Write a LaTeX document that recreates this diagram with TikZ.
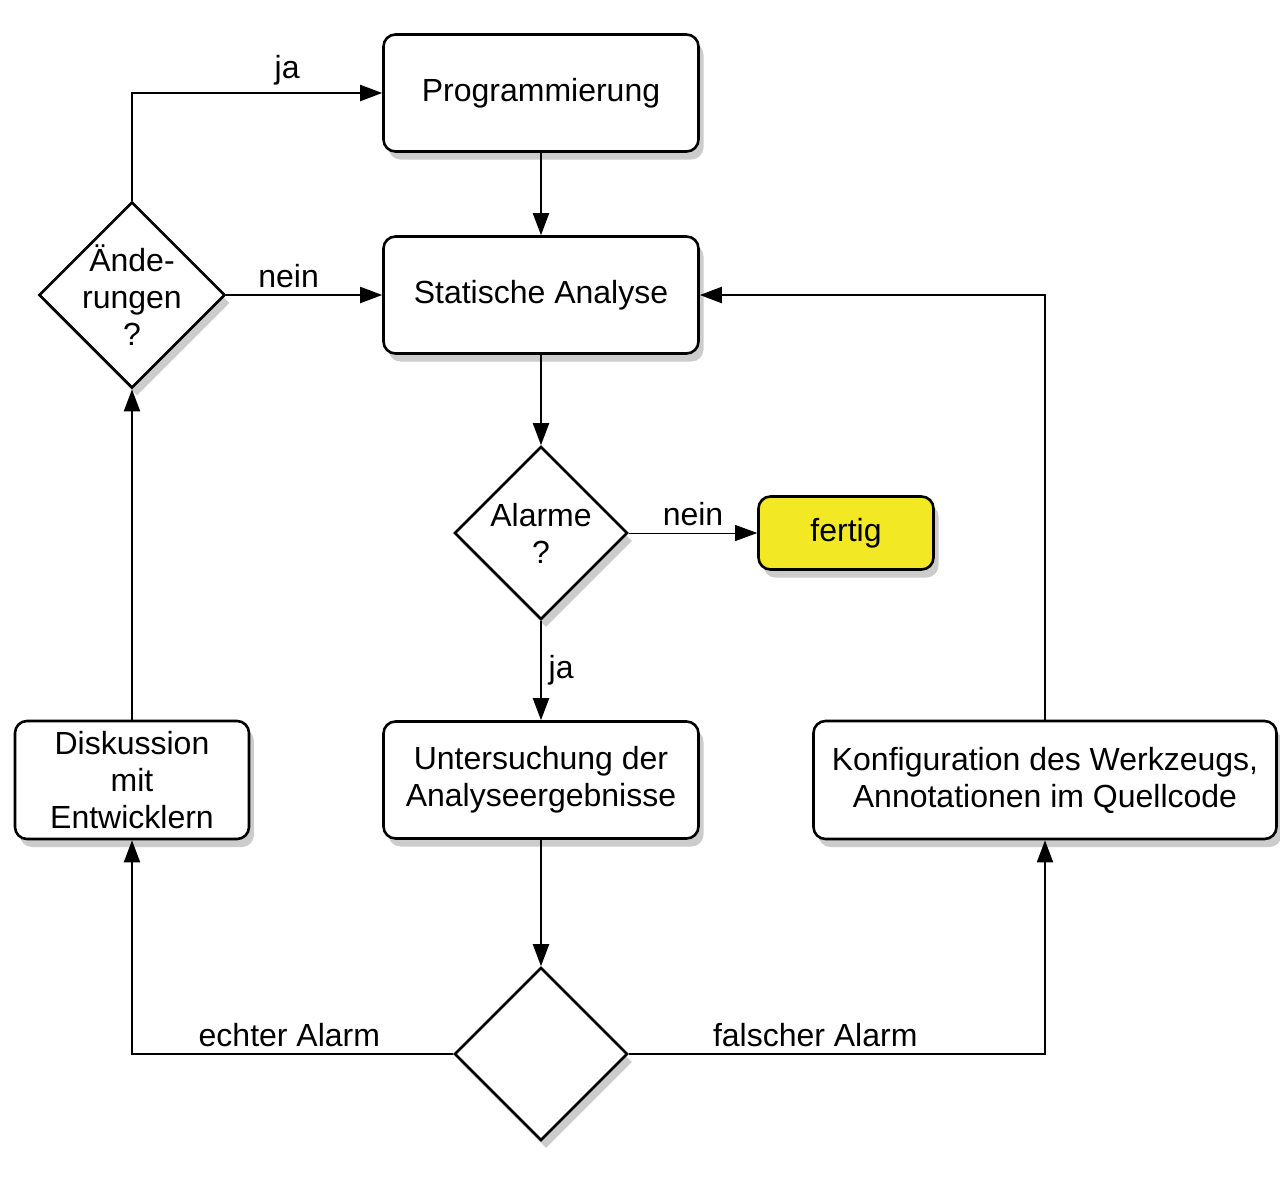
\documentclass[tikz,border=0pt]{standalone}
\usepackage{fontspec}
\setmainfont{Liberation Sans}
\usetikzlibrary{arrows.meta,shapes.geometric,shadows}
\definecolor{fertiggelb}{RGB}{242,232,36}

\begin{document}
\begin{tikzpicture}[->,>={Triangle[length=11pt,width=8pt]},line width=1pt,
                    node distance=101pt,font=\fontsize{16}{18.5}\selectfont,
                    box/.style={draw,line width=1.3pt,rounded corners=6pt,fill=white,
                                inner sep=2pt,minimum width=157.5pt,minimum height=58.5pt,
                                align=center,
                                drop shadow={shadow xshift=2.5pt,shadow yshift=-4pt,opacity=0.4}},
                    decision/.style={diamond,draw,line width=1.3pt,fill=white,inner sep=0pt,
                                minimum width=86.5pt,minimum height=86.5pt,align=center,
                                drop shadow={shadow xshift=2.5pt,shadow yshift=-4pt,opacity=0.4}}]

  \useasboundingbox (-270.5pt,46.5pt) rectangle (369.5pt,-548.5pt);

  \node[box]      (prog)                                    {Programmierung};
  \node[box]      (sa)     [below of=prog]                  {Statische Analyse};
  \node[decision] (alarm)  [below of=sa, node distance=119pt] {Alarme\\?};
  \node[box, fill=fertiggelb, minimum width=87.5pt, minimum height=36.5pt]
                  (fertig) [right of=alarm, node distance=152.5pt] {fertig};
  \node[box]      (unters) [below of=alarm, node distance=123.5pt] {Untersuchung der\\Analyseergebnisse};
  \node[decision] (art)    [below of=unters, node distance=137pt] {};
  \node[decision, inner sep=-2pt, minimum width=93pt, minimum height=93pt]
                  (aend)   [left of=sa, node distance=204.5pt] {Ände-\\rungen\\?};
  \node[box, minimum width=117pt, minimum height=59pt]
                  (disk)   [left of=unters, node distance=204.5pt] {Diskussion\\mit\\Entwicklern};
  \node[box, minimum width=231.5pt, minimum height=59pt]
                  (konf)   [right of=unters, node distance=252pt] {Konfiguration des Werkzeugs,\\Annotationen im Quellcode};

  \path (prog)   edge (sa)
        (sa)     edge (alarm)
        (aend)   edge node[above,pos=0.4] {nein} (sa)
        (alarm)  edge [line width=0.4pt] node[above] {nein} (fertig)
                 edge node[right] {ja} (unters)
        (unters) edge (art)
        (disk)   edge (aend);

  \draw (aend.north) |- node[pos=0.81,above] {ja} (prog.west);
  \draw (konf.north) |- (sa.east);
  \draw (art.west) -| node[pos=0.255,above] {echter Alarm} (disk.south);
  \draw (art.east) -| node[pos=0.224,above] {falscher Alarm} (konf.south);
\end{tikzpicture}
\end{document}
